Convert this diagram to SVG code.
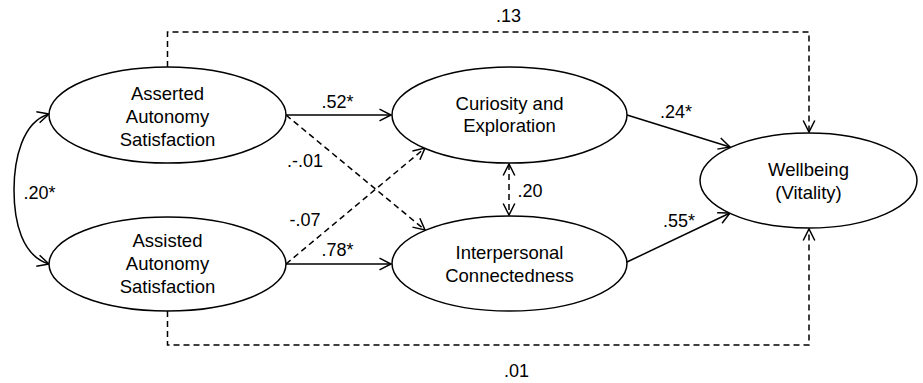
<svg xmlns="http://www.w3.org/2000/svg" width="923" height="383" viewBox="0 0 923 383">
<style>
.n{fill:#fff;stroke:#000;stroke-width:1.5}
.t{font-family:"Liberation Sans",Arial,sans-serif;font-size:18.5px;fill:#000;text-anchor:middle}
.l{font-family:"Liberation Sans",Arial,sans-serif;font-size:18px;fill:#000;text-anchor:middle}
.s{fill:none;stroke:#000;stroke-width:1.5}
.d{fill:none;stroke:#000;stroke-width:1.5;stroke-dasharray:6 4}
</style>
<defs>
<marker id="a" markerUnits="userSpaceOnUse" markerWidth="16" markerHeight="16" refX="13" refY="7" orient="auto-start-reverse">
<path d="M1.5,1.2 L13,7 L1.5,12.8" fill="none" stroke="#000" stroke-width="1.5"/>
</marker>
</defs>
<rect width="923" height="383" fill="#fff"/>
<g id="connectors">
<path class="d" d="M167.5,67 V32 H809 V132" marker-end="url(#a)"/>
<path class="d" d="M167.5,311 V345 H809 V229" marker-end="url(#a)"/>
<path class="s" d="M49,114 C22,122 14,160 14,190 C14,222 22,256 49,264" marker-start="url(#a)" marker-end="url(#a)"/>
<path class="s" d="M286,115 H391" marker-end="url(#a)"/>
<path class="s" d="M286,264 H391" marker-end="url(#a)"/>
<path class="d" d="M286,115 L425,230" marker-end="url(#a)"/>
<path class="d" d="M286,264 L425,148" marker-end="url(#a)"/>
<path class="d" d="M509,164 V215" marker-start="url(#a)" marker-end="url(#a)"/>
<path class="s" d="M627,115 L730,147" marker-end="url(#a)"/>
<path class="s" d="M627,262 L730,213" marker-end="url(#a)"/>
<text class="l" x="508.5" y="22">.13</text>
<text class="l" x="516.5" y="377">.01</text>
<text class="l" x="39.5" y="199">.20*</text>
<text class="l" x="337.5" y="108">.52*</text>
<text class="l" x="337.5" y="256">.78*</text>
<text class="l" x="305" y="167">.-.01</text>
<text class="l" x="305" y="226">-.07</text>
<text class="l" x="530" y="197">.20</text>
<text class="l" x="676" y="118">.24*</text>
<text class="l" x="679" y="227">.55*</text>
</g>
<g id="asserted">
<ellipse class="n" cx="167.5" cy="115" rx="118.5" ry="48"/>
<text class="t" x="167.5" y="100">Asserted</text>
<text class="t" x="167.5" y="123">Autonomy</text>
<text class="t" x="167.5" y="146">Satisfaction</text>
</g>
<g id="assisted">
<ellipse class="n" cx="167.5" cy="264" rx="118.5" ry="47"/>
<text class="t" x="167.5" y="247">Assisted</text>
<text class="t" x="167.5" y="270">Autonomy</text>
<text class="t" x="167.5" y="293">Satisfaction</text>
</g>
<g id="curiosity">
<ellipse class="n" cx="509.5" cy="115" rx="117.5" ry="48"/>
<text class="t" x="509.5" y="109.5">Curiosity and</text>
<text class="t" x="509.5" y="132">Exploration</text>
</g>
<g id="interpersonal">
<ellipse class="n" cx="509.5" cy="263.5" rx="117.5" ry="47.5"/>
<text class="t" x="509.5" y="258.5">Interpersonal</text>
<text class="t" x="509.5" y="281.5">Connectedness</text>
</g>
<g id="wellbeing">
<ellipse class="n" cx="808.5" cy="180.5" rx="108.5" ry="47.5"/>
<text class="t" x="808.5" y="176">Wellbeing</text>
<text class="t" x="808.5" y="199">(Vitality)</text>
</g>
</svg>
